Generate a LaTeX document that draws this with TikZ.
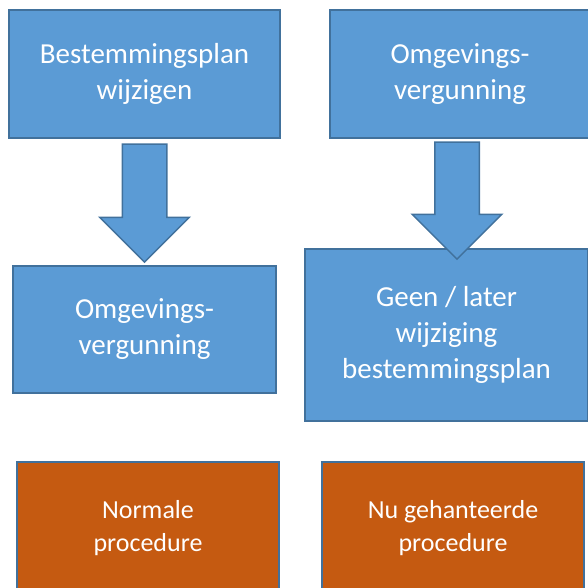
\documentclass[tikz,border=0pt]{standalone}
\usepackage{fontspec}
\setmainfont{Carlito}
\usepackage{tikz}
\usetikzlibrary{shapes,arrows,positioning,calc}
\definecolor{blokblauw}{HTML}{5B9BD5}
\definecolor{randblauw}{HTML}{41719C}
\definecolor{bloeoranje}{HTML}{C55A11}

\begin{document}
\begin{tikzpicture}[x=1pt,y=-1pt,
  blok/.style={draw=randblauw,line width=1.5pt,fill=blokblauw,text=white,align=center,inner sep=0pt,
    font=\fontsize{29}{36}\selectfont},
  procblok/.style={blok,fill=bloeoranje,font=\fontsize{26}{33}\selectfont},
  pijl/.style={single arrow,draw=randblauw,line width=1.5pt,fill=blokblauw,rotate=-90,
    inner xsep=0pt,inner ysep=21.5pt,single arrow head extend=22.5pt,single arrow tip angle=90}]%[auto]

\useasboundingbox (0,0) rectangle (588,587);
\clip (0,0) rectangle (588,587);

\node [blok,minimum width=271pt,minimum height=128pt] (bpwijz) at (144.5,74) {Bestemmingsplan\\wijzigen};
\node [blok,minimum width=260pt,minimum height=128pt] (omgv1) at (460,74) {Omgevings-\\vergunning};

\node [blok,minimum width=263pt,minimum height=127pt] (omgv2) at (144.5,329.5) {Omgevings-\\vergunning};
\node [blok,minimum width=283pt,minimum height=172pt] (geen) at (446.5,335) {Geen / later\\wijziging\\bestemmingsplan};

\node [pijl,minimum height=118pt] (pijlL) at (144.5,192) {};
\node [pijl,minimum height=117pt] (pijlR) at (457,189.5) {};

\node [procblok,minimum width=262pt,minimum height=132pt] (normaal) at (148,528) {Normale\\procedure};
\node [procblok,minimum width=262pt,minimum height=132pt] (nugeh) at (453,528) {Nu gehanteerde\\procedure};

\end{tikzpicture}
\end{document}
